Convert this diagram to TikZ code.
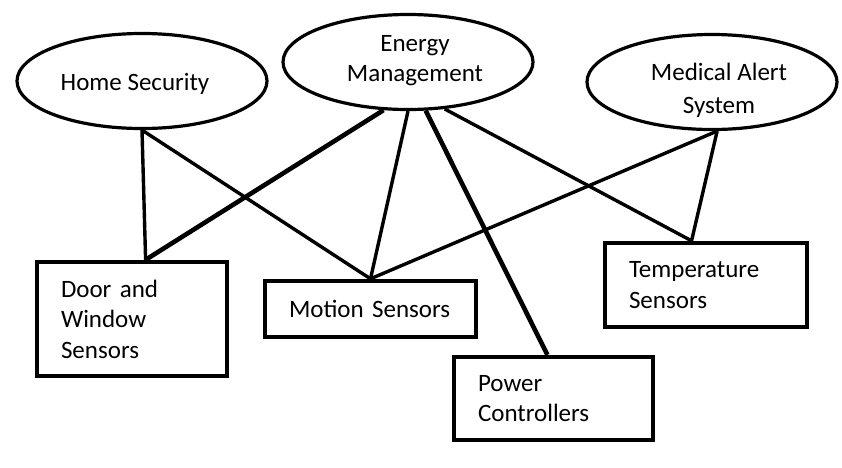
\documentclass[tikz,border=0pt]{standalone}
\usepackage{fontspec}
\setmainfont{Carlito}
\usetikzlibrary{shapes.geometric,calc}

\begin{document}
\begin{tikzpicture}[x=1pt, y=-1pt,
        app/.style={ellipse, draw, line width=3.2pt, minimum width=250pt, minimum height=95pt, inner sep=0pt},
        caption/.style={align=center, inner sep=0pt, font=\fontsize{25}{30}\selectfont},
        sensor/.style={rectangle, draw, line width=4.4pt, inner xsep=24pt, inner ysep=0pt,
            align=left, font=\fontsize{25}{30.5}\selectfont},
        link/.style={line width=3.4pt},
        heavy link/.style={line width=4.6pt}]
        \useasboundingbox (0,0) rectangle (842,467);
        % ==== SYSTEMS ====
        \node[app] (hs) at (142,81) {};
        \node[app] (em) at (408,62) {};
        \node[app] (ma) at (712,82) {};
        \node[caption] (hstext) at (135,84) {Home Security};
        \node[caption] (emtext) at (415,61) {Energy\\Management};
        \node[caption] (matext) at (719,90) {Medical Alert\\[3pt]System};
        % ==== SENSORS ====
        \node[sensor, text width=142pt, minimum height=114pt] (door) at (132,319) {Door and\\Window\\Sensors};
        \node[sensor, text width=163pt, minimum height=56pt] (motion) at (370.5,309) {Motion Sensors};
        \node[sensor, text width=151pt, minimum height=83pt] (power) at (553.5,398.5) {Power\\Controllers};
        \node[sensor, text width=154pt, minimum height=84pt] (temp) at (706,285) {Temperature\\Sensors};
        \coordinate (doorjoin) at ($(door.north west)!0.57!(door.north east)$);
        \coordinate (powerjoin) at ($(power.north west)!0.47!(power.north east)$);
        \coordinate (tempjoin) at ($(temp.north west)!0.43!(temp.north east)$);
        % ==== LINKS ====
        \draw[link] (hs.south) -- (doorjoin);
        \draw[link] (hs.south) -- (motion.north);
        \draw[heavy link] (em.243) -- (doorjoin);
        \draw[link] (em.south) -- (motion.north);
        \draw[heavy link] (em.290) -- (powerjoin);
        \draw[link] (em.308) -- (tempjoin);
        \draw[link] (ma.276) -- (motion.north);
        \draw[link] (ma.276) -- (tempjoin);
\end{tikzpicture}
\end{document}
